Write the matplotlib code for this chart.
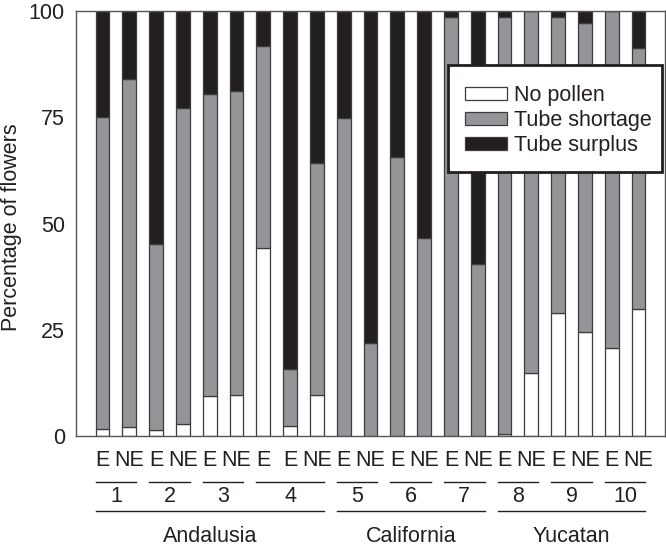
import matplotlib
matplotlib.use("Agg")
import matplotlib.pyplot as plt
import matplotlib.transforms as mtransforms
from matplotlib.patches import Patch, Rectangle
from matplotlib.lines import Line2D
import numpy as np

plt.rcParams['font.family'] = ['Liberation Sans', 'DejaVu Sans']

# ---- data ----
bar_labels = ["E", "NE", "E", "NE", "E", "NE", "E", "E", "NE", "E", "NE",
              "E", "NE", "E", "NE", "E", "NE", "E", "NE", "E", "NE"]
site_ids = ["1", "2", "3", "4", "5", "6", "7", "8", "9", "10"]
site_bars = [(0, 1), (2, 3), (4, 5), (6, 8), (9, 10), (11, 12), (13, 14),
             (15, 16), (17, 18), (19, 20)]
regions = ["Andalusia", "California", "Yucatan"]
region_bars = [(0, 8), (9, 14), (15, 20)]

no_pollen = [1.7, 2.1, 1.4, 2.9, 9.5, 9.7, 44.2, 2.3, 9.7, 0, 0,
             0, 0, 0, 0, 0.5, 14.9, 28.9, 24.5, 20.8, 30.0]
shortage_top = [75.0, 84.0, 45.1, 77.1, 80.5, 81.2, 91.7, 15.7, 64.2, 74.9, 21.8,
                65.7, 46.5, 98.5, 40.4, 98.7, 100, 98.7, 97.2, 100, 91.2]
tube_shortage = [s - n for s, n in zip(shortage_top, no_pollen)]
tube_surplus = [100 - s for s in shortage_top]

series_names = ["No pollen", "Tube shortage", "Tube surplus"]
colors = ["#ffffff", "#939598", "#231f20"]
y_ticks = [0, 25, 50, 75, 100]

FS = 15.5
TXT = "#231f20"

# ---- figure ----
W, H = 666, 551
fig = plt.figure(figsize=(W / 100, H / 100), dpi=100)
ax_left, ax_right, ax_top, ax_bot = 76, 665, 11, 436
ax = fig.add_axes([ax_left / W, 1 - ax_bot / H, (ax_right - ax_left) / W, (ax_bot - ax_top) / H])

x = np.arange(len(bar_labels))
width = 0.51
edge = "#3c3c3c"
bottom = np.zeros(len(x))
for vals, col in zip([no_pollen, tube_shortage, tube_surplus], colors):
    vals = np.array(vals)
    ax.bar(x, vals, width=width, bottom=bottom, color=col, edgecolor=edge, linewidth=0.9)
    bottom += vals

ax.set_xlim(-0.99, 20.99)
ax.set_ylim(0, 100)
ax.set_yticks(y_ticks)
ax.set_yticklabels([str(t) for t in y_ticks], fontsize=FS, color=TXT)
ax.tick_params(axis='y', length=0, pad=8)
ax.set_xticks([])
for s in ax.spines.values():
    s.set_color("#555555")
    s.set_linewidth(1.0)

fig.text(12 / W, 1 - 227 / H, "Percentage of flowers", rotation=90,
         ha="center", va="center", fontsize=FS, color=TXT)

# ---- x annotations ----
trans = mtransforms.blended_transform_factory(ax.transData, fig.transFigure)
fy = lambda ypix: 1 - ypix / H
for xi, lab in zip(x, bar_labels):
    ax.text(xi, fy(461), lab, transform=trans, ha="center", va="center",
            fontsize=FS, color=TXT, clip_on=False)

half = width / 2
for sid, (a, b) in zip(site_ids, site_bars):
    fig.add_artist(Line2D([a - half, b + half], [fy(481.5)] * 2, transform=trans,
                          color=TXT, linewidth=1.0))
    ax.text((a + b) / 2, fy(497), sid, transform=trans, ha="center", va="center",
            fontsize=FS, color=TXT, clip_on=False)

for reg, (a, b) in zip(regions, region_bars):
    fig.add_artist(Line2D([a - half, b + half], [fy(510.5)] * 2, transform=trans,
                          color=TXT, linewidth=1.0))
    ax.text((a + b) / 2, fy(537), reg, transform=trans, ha="center", va="center",
            fontsize=FS, color=TXT, clip_on=False)

# ---- legend (frame drawn separately) ----
frame = Rectangle((448 / W, 1 - 172 / H), 214 / W, 107 / H, transform=fig.transFigure,
                  facecolor="white", edgecolor=TXT, linewidth=2.0, zorder=5)
fig.add_artist(frame)
handles = [Patch(facecolor=c, edgecolor=edge, linewidth=0.9) for c in colors]
leg = fig.legend(handles, series_names, loc="upper left",
                 bbox_to_anchor=(465 / W, 1 - 85.5 / H), frameon=False,
                 fontsize=FS, handlelength=1.95, handleheight=0.56, labelspacing=0.17,
                 handletextpad=0.33, borderpad=0, borderaxespad=0)
leg.set_zorder(6)
for t in leg.get_texts():
    t.set_color(TXT)

fig.savefig("out.png", dpi=100)
